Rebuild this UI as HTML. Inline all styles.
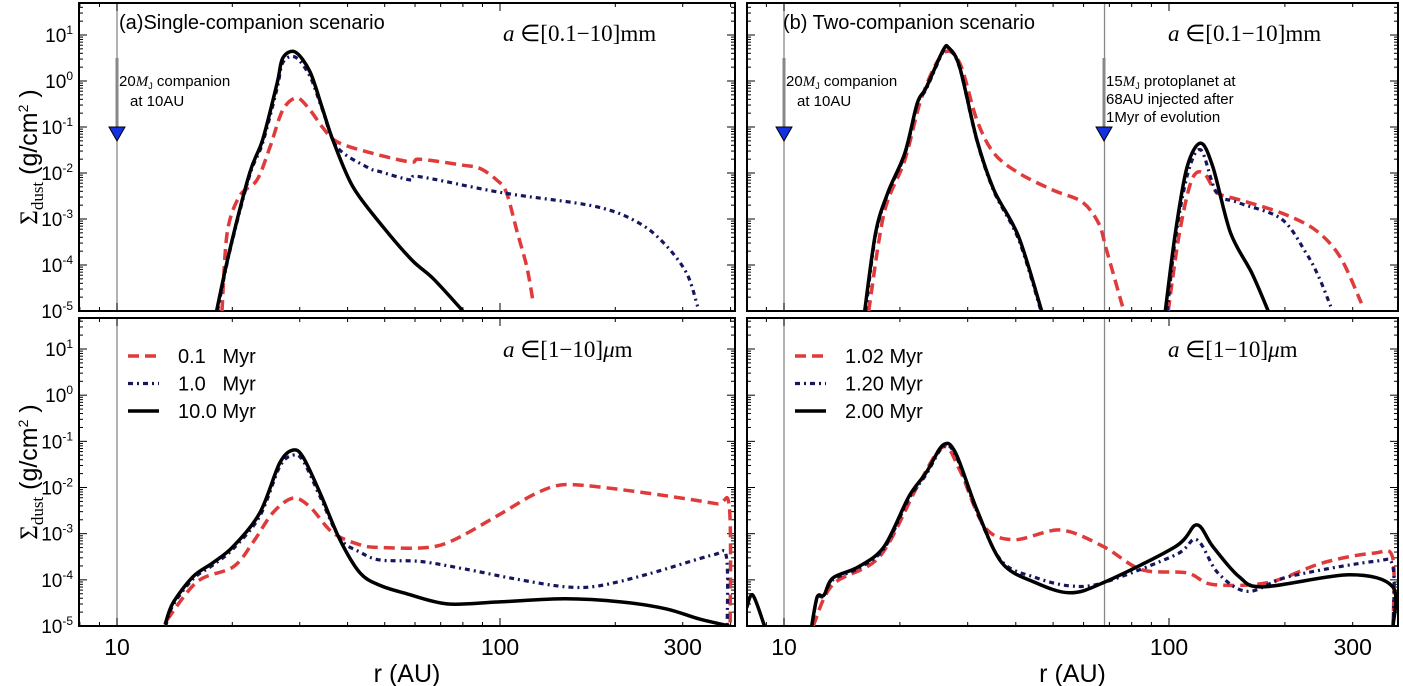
<!DOCTYPE html>
<html><head><meta charset="utf-8"><style>
html,body{margin:0;padding:0;background:#fff;}
svg{display:block;font-family:"Liberation Sans",sans-serif;}
</style></head><body>
<svg id="chart" width="1403" height="686" viewBox="0 0 1403 686" xmlns="http://www.w3.org/2000/svg">
<defs>
<clipPath id="c0"><rect x="79" y="3" width="656" height="308"/></clipPath>
<clipPath id="c1"><rect x="747" y="3" width="651" height="308"/></clipPath>
<clipPath id="c2"><rect x="79" y="318" width="656" height="308"/></clipPath>
<clipPath id="c3"><rect x="747" y="318" width="651" height="308"/></clipPath>
</defs>
</svg>
<script>
// ---- data (r in AU, log10 Sigma) ----
const tlBlackR=[18.2,19.7,22.2,24.0,26.2,27.1,29.2,31.9,34.3,36.6,41.3,49.5,59,67,80];
const tlBlackS=[-5,-3.67,-2.0,-1.28,-0.04,0.5,0.63,0.2,-0.57,-1.28,-2.3,-3.17,-3.9,-4.3,-5];
const tlBlueR=[18.3,19.7,22.2,24.0,26.2,27.1,29.2,31.9,34.3,37.5,44.9,48.6,58.3,61.7,101.6,178,232,273,308,328];
const tlBlueS=[-5,-3.7,-2.05,-1.35,-0.15,0.4,0.52,0.1,-0.6,-1.43,-1.87,-1.97,-2.15,-2.08,-2.43,-2.73,-3.1,-3.6,-4.2,-4.9];
const tlRedR=[18.8,19.4,20.9,23.2,25.1,27.1,29.5,31.9,34.5,37.5,44.9,58.3,61.7,80,88.6,98,104,111,117.5,122];
const tlRedS=[-5,-3.3,-2.5,-2.15,-1.43,-0.63,-0.37,-0.63,-1.02,-1.32,-1.54,-1.76,-1.7,-1.83,-1.9,-2.15,-2.43,-3.3,-4.04,-4.8];

const trBlackR=[16.2,17.3,18.6,20.6,22.2,23.4,25.9,26.8,28.6,31.7,35.1,40.7,46.7,NaN,97.8,103.9,111.4,120.8,130,144.5,164,181];
const trBlackS=[-5,-3.3,-2.43,-1.57,-0.48,-0.15,0.67,0.72,0.3,-1.28,-2.37,-3.39,-5,NaN,-5,-3.3,-1.87,-1.35,-1.87,-3.3,-4.17,-5];
const trBlueR=[16.3,17.3,18.6,20.6,22.2,23.4,25.9,26.8,28.6,31.7,35.1,40.7,46.5,NaN,99,104,112,121,133,152,196,227,245,263];
const trBlueS=[-5,-3.35,-2.45,-1.6,-0.5,-0.18,0.64,0.7,0.28,-1.3,-2.4,-3.45,-5,NaN,-5,-3.4,-2.0,-1.5,-2.43,-2.65,-3.0,-3.74,-4.26,-4.9];
const trRedR=[16.6,18.2,20.6,22.8,25.9,28.6,31.7,35.1,40.7,49.9,59.5,65.7,68.8,75.7,NaN,99.5,106.5,114.6,123,133.5,152,196,240,278,316];
const trRedS=[-5,-2.87,-1.72,-0.35,0.6,0.39,-0.85,-1.57,-2.0,-2.37,-2.63,-3.1,-3.67,-4.9,NaN,-5,-3.3,-2.15,-2.0,-2.43,-2.58,-2.87,-3.24,-3.82,-4.83];

const blBlackR=[13.35,14.0,15.8,17.8,20.1,23.6,26.6,28.8,30.6,33.9,38.2,43.1,48.6,57,72.7,98.5,148,208,272,332,397];
const blBlackS=[-4.97,-4.5,-3.93,-3.63,-3.28,-2.55,-1.47,-1.19,-1.34,-2.12,-3.13,-3.85,-4.12,-4.3,-4.52,-4.48,-4.41,-4.48,-4.63,-4.85,-5];
const blBlueR=[13.4,14.0,15.8,17.8,20.1,23.6,26.6,28.8,30.6,33.9,38.2,43.1,48.6,61.7,80.5,109.5,148,181,245,360,390,392];
const blBlueS=[-5,-4.55,-3.98,-3.68,-3.33,-2.62,-1.55,-1.3,-1.42,-2.2,-3.1,-3.4,-3.57,-3.6,-3.76,-3.98,-4.15,-4.13,-3.87,-3.46,-3.5,-5];
const blRedR=[13.5,16.2,20.1,22.6,25.5,28.8,31.9,36.6,43.1,48.6,64.5,76,98.5,120.6,139,157,200,272,367,397,399];
const blRedS=[-4.87,-4.04,-3.72,-3.2,-2.55,-2.23,-2.42,-2.98,-3.24,-3.3,-3.3,-3.13,-2.61,-2.18,-1.97,-1.94,-2.03,-2.18,-2.35,-2.42,-5];

const brBlackR=[8.0,8.3,8.9,NaN,11.8,12.2,12.7,13.4,15.6,18.2,21.1,23.4,25.9,27.9,31.7,36.8,45,55.3,67.6,103.9,118,130,152,176,294,381,382];
const brBlackS=[-4.6,-4.33,-5,NaN,-5,-4.37,-4.33,-3.96,-3.72,-3.28,-2.2,-1.68,-1.08,-1.25,-2.48,-3.63,-4.06,-4.28,-4.06,-3.28,-2.81,-3.28,-3.93,-4.15,-3.89,-4.15,-5];
const brBlueR=[11.8,12.2,12.7,13.4,15.6,18.2,21.1,23.4,25.9,27.9,31.7,36.8,45,55.3,67.6,104,118,134,160,205,341,381,382];
const brBlueS=[-5,-4.4,-4.35,-4.0,-3.75,-3.32,-2.25,-1.72,-1.12,-1.3,-2.52,-3.6,-3.95,-4.13,-4.06,-3.46,-3.13,-3.85,-4.25,-3.93,-3.6,-3.7,-5];
const brRedR=[11.9,13.4,17.7,22.2,25.9,28.6,33.2,39.7,52.3,67.6,84.9,111.4,130,181,251,341,381,382];
const brRedS=[-5,-4.1,-3.5,-1.98,-1.12,-1.62,-2.85,-3.13,-2.92,-3.28,-3.78,-3.85,-4.1,-4.06,-3.63,-3.42,-3.52,-5];

const yTickExps=[1,0,-1,-2,-3,-4,-5];
const xTickLabels=[10,100,300];
const leftLegend=["0.1   Myr","1.0   Myr","10.0 Myr"];
const rightLegend=["1.02 Myr","1.20 Myr","2.00 Myr"];

const NS="http://www.w3.org/2000/svg";
const svg=document.getElementById('chart');
function el(tag,attrs,parent){const e=document.createElementNS(NS,tag);for(const k in attrs)e.setAttribute(k,attrs[k]);(parent||svg).appendChild(e);return e;}

const panels=[
 {x0:79,x1:735,x10:117,dec:383,y0:3,y1:311,yOne:35,ydec:46,clip:'c0',name:'panel-a-mm'},
 {x0:747,x1:1398,x10:784,dec:385,y0:3,y1:311,yOne:35,ydec:46,clip:'c1',name:'panel-b-mm'},
 {x0:79,x1:735,x10:117,dec:383,y0:318,y1:626,yOne:349,ydec:46.17,clip:'c2',name:'panel-a-um'},
 {x0:747,x1:1398,x10:784,dec:385,y0:318,y1:626,yOne:349,ydec:46.17,clip:'c3',name:'panel-b-um'}
];
function X(p,r){return p.x10+(Math.log10(r)-1)*p.dec;}
function Y(p,s){return p.yOne-(s-1)*p.ydec;}

const styles={
 red:{stroke:'#e03a3a','stroke-width':3.5,'stroke-dasharray':'11,6'},
 blue:{stroke:'#161660','stroke-width':3.2,'stroke-dasharray':'5,4,2,4'},
 black:{stroke:'#000','stroke-width':3.5}
};
function smoothPath(pts){
  if(pts.length<2)return '';
  let d='M'+pts[0][0].toFixed(1)+','+pts[0][1].toFixed(1);
  for(let i=0;i<pts.length-1;i++){
    const p0=pts[Math.max(0,i-1)],p1=pts[i],p2=pts[i+1],p3=pts[Math.min(pts.length-1,i+2)];
    const t=0.16;
    const c1=[p1[0]+(p2[0]-p0[0])*t,p1[1]+(p2[1]-p0[1])*t];
    const c2=[p2[0]-(p3[0]-p1[0])*t,p2[1]-(p3[1]-p1[1])*t];
    d+='C'+c1[0].toFixed(1)+','+c1[1].toFixed(1)+' '+c2[0].toFixed(1)+','+c2[1].toFixed(1)+' '+p2[0].toFixed(1)+','+p2[1].toFixed(1);
  }
  return d;
}
function series(p,R,S,style,name){
  let d='',seg=[];
  for(let i=0;i<=R.length;i++){
    if(i==R.length||isNaN(R[i])){d+=smoothPath(seg);seg=[];continue;}
    seg.push([X(p,R[i]),Y(p,S[i])]);
  }
  const a={d:d,fill:'none','clip-path':'url(#'+p.clip+')','stroke-linejoin':'round'};
  Object.assign(a,styles[style]);
  const e=el('path',a);
  
  
}

panels.forEach((p,pi)=>{
  const g=el('g',{});
  
  
  const vl=(pi%2==0)?[10]:[10,68];
  vl.forEach(r=>{const l=el('line',{x1:X(p,r),x2:X(p,r),y1:p.y0,y2:p.y1,stroke:'#888','stroke-width':1.3},g);
    
    });
  const yb=p.y1, yt=p.y0;
  for(let d=0;d<=2;d++){for(let m=1;m<=9;m++){
    const r=m*Math.pow(10,d);const x=X(p,r);if(x<p.x0||x>p.x1)continue;
    const L=(m==1)?8:4;
    el('line',{x1:x,x2:x,y1:yb,y2:yb-L,stroke:'#000','stroke-width':1},g);
    el('line',{x1:x,x2:x,y1:yt,y2:yt+L,stroke:'#000','stroke-width':1},g);
  }}
  for(let e=-6;e<=2;e++){for(let m=1;m<=9;m++){
    const s=e+Math.log10(m);const y=Y(p,s);if(y<p.y0||y>p.y1)continue;
    const L=(m==1)?8:4;
    el('line',{x1:p.x0,x2:p.x0+L,y1:y,y2:y,stroke:'#000','stroke-width':1},g);
    el('line',{x1:p.x1,x2:p.x1-L,y1:y,y2:y,stroke:'#000','stroke-width':1},g);
  }}
  const fr=el('rect',{x:p.x0,y:p.y0,width:p.x1-p.x0,height:p.y1-p.y0,fill:'none',stroke:'#000','stroke-width':2},g);
  
  
  if(pi%2==0){
    yTickExps.forEach(e=>{
      const t=el('text',{x:p.x0-6,y:Y(p,e)+7,'text-anchor':'end','font-size':19},g);
      t.innerHTML='10<tspan dy="-8" font-size="12">'+e+'</tspan>';
      
      
    });
  }
  if(pi>=2){
    xTickLabels.forEach(v=>{
      const t=el('text',{x:X(p,v),y:655,'text-anchor':'middle','font-size':23},g);
      t.textContent=v;
      
      
    });
    const xt=el('text',{x:(p.x0+p.x1)/2,y:682,'text-anchor':'middle','font-size':25},g);
    xt.textContent='r (AU)';
    
    
  }
});

series(panels[0],tlRedR,tlRedS,'red','series-0.1myr-mm');
series(panels[0],tlBlueR,tlBlueS,'blue','series-1.0myr-mm');
series(panels[0],tlBlackR,tlBlackS,'black','series-10myr-mm');
series(panels[1],trRedR,trRedS,'red','series-1.02myr-mm');
series(panels[1],trBlueR,trBlueS,'blue','series-1.20myr-mm');
series(panels[1],trBlackR,trBlackS,'black','series-2.00myr-mm');
series(panels[2],blRedR,blRedS,'red','series-0.1myr-um');
series(panels[2],blBlueR,blBlueS,'blue','series-1.0myr-um');
series(panels[2],blBlackR,blBlackS,'black','series-10myr-um');
series(panels[3],brRedR,brRedS,'red','series-1.02myr-um');
series(panels[3],brBlueR,brBlueS,'blue','series-1.20myr-um');
series(panels[3],brBlackR,brBlackS,'black','series-2.00myr-um');

function arrow(x){
  const a=el('line',{x1:x,x2:x,y1:58,y2:128,stroke:'#888','stroke-width':3});
  
  
  const t=el('polygon',{points:(x-8)+',127 '+(x+8)+',127 '+x+',141',fill:'#1530e0',stroke:'#000','stroke-width':1});
  
  
}
arrow(117);arrow(784);arrow(1104);

function legend(x,labels,name){
  const keys=['red','blue','black'];
  labels.forEach((lab,i)=>{
    const y=356+i*27.5;
    const a={x1:x,x2:x+31,y1:y,y2:y,fill:'none'};Object.assign(a,styles[keys[i]]);
    const l=el('line',a);
    
    
    const t=el('text',{x:x+50,y:y+7,'font-size':20});
    t.textContent=lab;t.style.whiteSpace='pre';
    
    
  });
}
legend(128,leftLegend,'legend-left');
legend(795,rightLegend,'legend-right');

function txt(x,y,s,size,name,extra){
  const t=el('text',Object.assign({x:x,y:y,'font-size':size},extra||{}));
  t.innerHTML=s;
  
  
  return t;
}
txt(119,29,'(a)Single-companion scenario',20,'panel-a-title');
txt(783,29,'(b) Two-companion scenario',20,'panel-b-title');
txt(503,41,'<tspan font-style="italic">a</tspan> ∈[0.1−10]mm',23,'size-range-label',{'font-family':'Liberation Serif,serif'});
txt(1168,41,'<tspan font-style="italic">a</tspan> ∈[0.1−10]mm',23,'size-range-label',{'font-family':'Liberation Serif,serif'});
txt(503,357,'<tspan font-style="italic">a</tspan> ∈[1−10]<tspan font-style="italic">μ</tspan>m',23,'size-range-label',{'font-family':'Liberation Serif,serif'});
txt(1168,357,'<tspan font-style="italic">a</tspan> ∈[1−10]<tspan font-style="italic">μ</tspan>m',23,'size-range-label',{'font-family':'Liberation Serif,serif'});
txt(119,86,'20<tspan font-family="Liberation Serif,serif" font-style="italic">M</tspan><tspan font-size="9" dy="3">J</tspan><tspan dy="-3"> companion</tspan>',15,'companion-annotation');
txt(130,106,'at 10AU',15,'companion-annotation');
txt(786,86,'20<tspan font-family="Liberation Serif,serif" font-style="italic">M</tspan><tspan font-size="9" dy="3">J</tspan><tspan dy="-3"> companion</tspan>',15,'companion-annotation');
txt(797,106,'at 10AU',15,'companion-annotation');
txt(1106,86,'15<tspan font-family="Liberation Serif,serif" font-style="italic">M</tspan><tspan font-size="9" dy="3">J</tspan><tspan dy="-3"> protoplanet at</tspan>',15,'protoplanet-annotation');
txt(1106,104,'68AU injected after',15,'protoplanet-annotation');
txt(1106,122,'1Myr of evolution',15,'protoplanet-annotation');

[157,472].forEach(cy=>{
  const t=el('text',{x:0,y:0,'font-size':25,'text-anchor':'middle',transform:'translate(37,'+cy+') rotate(-90)'});
  t.innerHTML='<tspan font-family="Liberation Serif,serif">Σ</tspan><tspan font-family="Liberation Serif,serif" font-size="17" dy="6">dust</tspan><tspan dy="-6"> (g/cm</tspan><tspan font-size="14" dy="-9">2</tspan><tspan dy="9"> )</tspan>';
  
  
});
</script>
</body></html>
